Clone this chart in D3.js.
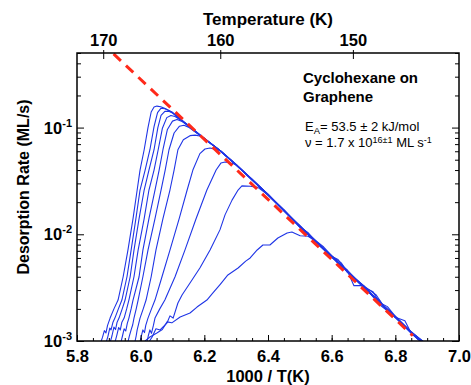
<!DOCTYPE html>
<html>
<head>
<meta charset="utf-8">
<script src="https://cdn.jsdelivr.net/npm/d3@7"></script>
<style>
  body { margin: 0; background: #fff; }
  svg { display: block; font-family: "Liberation Sans", Arial, Helvetica, sans-serif; }
</style>
</head>
<body>
<div id="chart"></div>
<script>
// x = 1000/T (1/K), y = desorption rate (ML/s)
const xTicks = [5.8, 6.0, 6.2, 6.4, 6.6, 6.8, 7.0];
const tempTicks = [170, 160, 150];
const yDecades = [-3, -2, -1];

// Arrhenius fit (red dashed)
const fitLine = [[5.915, 0.49], [6.855, 0.00112]];

// TPD traces (highest coverage first)
const c1 = [[5.872,0.00092],[5.880,0.00108],[5.886,0.00125],[5.891,0.00119],[5.896,0.00140],[5.904,0.00164],[5.916,0.0020],[5.929,0.00242],[5.945,0.0040],[5.960,0.0071],[5.976,0.0140],[5.989,0.026],[5.998,0.040],[6.011,0.062],[6.023,0.100],[6.033,0.140],[6.042,0.156],[6.051,0.159],[6.063,0.157],[6.077,0.151],[6.090,0.144],[6.10,0.138],[6.15,0.104],[6.20,0.0788],[6.25,0.0607],[6.30,0.0448],[6.35,0.0326],[6.40,0.0235],[6.45,0.0168],[6.50,0.0119],[6.55,0.0086],[6.60,0.0062],[6.65,0.0045],[6.70,0.0032],[6.75,0.0023],[6.80,0.00166],[6.85,0.00119],[6.88,0.00100],[6.92,0.00092]];
const c2 = [[5.889,0.00092],[5.897,0.00110],[5.903,0.00132],[5.907,0.00127],[5.913,0.00150],[5.919,0.00164],[5.930,0.0020],[5.941,0.00242],[5.957,0.0040],[5.970,0.0071],[5.985,0.0140],[5.998,0.026],[6.014,0.040],[6.029,0.062],[6.042,0.102],[6.053,0.138],[6.064,0.152],[6.076,0.150],[6.090,0.144],[6.10,0.139],[6.15,0.105],[6.20,0.0792],[6.25,0.0603],[6.30,0.0445],[6.35,0.0327],[6.40,0.0237],[6.45,0.0166],[6.50,0.0117],[6.55,0.0087],[6.575,0.0076],[6.60,0.0063],[6.63,0.0054],[6.65,0.0044],[6.70,0.0033],[6.75,0.0023],[6.80,0.00170],[6.85,0.00121],[6.89,0.00098],[6.93,0.00092]];
const c3 = [[5.902,0.00092],[5.910,0.00112],[5.916,0.00135],[5.921,0.00128],[5.926,0.00150],[5.932,0.00164],[5.942,0.0020],[5.951,0.00242],[5.967,0.0040],[5.979,0.0071],[5.995,0.0140],[6.011,0.026],[6.026,0.040],[6.042,0.062],[6.054,0.100],[6.064,0.130],[6.076,0.142],[6.088,0.142],[6.100,0.137],[6.15,0.103],[6.20,0.0786],[6.25,0.0606],[6.30,0.0450],[6.35,0.0322],[6.40,0.0233],[6.45,0.0169],[6.50,0.0118],[6.55,0.0084],[6.60,0.0061],[6.65,0.0045],[6.67,0.0033],[6.70,0.0033],[6.75,0.0022],[6.80,0.00168],[6.85,0.00118],[6.88,0.00099],[6.92,0.00093]];
const c4 = [[5.917,0.00092],[5.925,0.00113],[5.931,0.00134],[5.936,0.00127],[5.941,0.00150],[5.948,0.00164],[5.956,0.0020],[5.963,0.00242],[5.979,0.0040],[5.992,0.0071],[6.011,0.0140],[6.026,0.026],[6.042,0.040],[6.055,0.062],[6.068,0.098],[6.082,0.124],[6.095,0.130],[6.108,0.127],[6.125,0.118],[6.15,0.105],[6.20,0.0790],[6.25,0.0609],[6.30,0.0447],[6.35,0.0323],[6.40,0.0238],[6.45,0.0167],[6.48,0.0137],[6.50,0.0121],[6.55,0.0085],[6.60,0.0062],[6.65,0.0046],[6.70,0.0032],[6.75,0.0024],[6.775,0.0019],[6.80,0.00167],[6.85,0.00121],[6.89,0.00096],[6.92,0.00092]];
const c5 = [[5.936,0.00092],[5.943,0.00112],[5.948,0.00130],[5.953,0.00124],[5.958,0.00146],[5.963,0.00164],[5.970,0.0020],[5.976,0.00242],[5.995,0.0040],[6.007,0.0071],[6.026,0.0140],[6.045,0.026],[6.058,0.040],[6.070,0.062],[6.084,0.096],[6.100,0.115],[6.114,0.119],[6.128,0.115],[6.15,0.104],[6.20,0.0787],[6.25,0.0605],[6.30,0.0449],[6.35,0.0324],[6.40,0.0234],[6.45,0.0166],[6.50,0.0120],[6.55,0.0086],[6.60,0.0062],[6.625,0.0051],[6.65,0.0045],[6.70,0.0032],[6.73,0.0029],[6.75,0.0023],[6.80,0.00170],[6.85,0.00119],[6.88,0.00100],[6.91,0.00093]];
const c6 = [[5.958,0.00092],[5.964,0.00110],[5.970,0.00127],[5.975,0.00142],[5.979,0.00164],[5.986,0.0020],[5.992,0.00242],[6.007,0.0040],[6.023,0.0071],[6.045,0.0140],[6.064,0.026],[6.077,0.040],[6.089,0.062],[6.105,0.089],[6.122,0.103],[6.136,0.105],[6.150,0.101],[6.20,0.0789],[6.25,0.0608],[6.30,0.0446],[6.35,0.0326],[6.40,0.0236],[6.45,0.0168],[6.50,0.0118],[6.55,0.0085],[6.60,0.0063],[6.65,0.0044],[6.70,0.0033],[6.74,0.0027],[6.76,0.0022],[6.80,0.00168],[6.85,0.00122],[6.89,0.00097],[6.93,0.00092]];
const c7 = [[5.980,0.00092],[5.986,0.00112],[5.989,0.00127],[5.994,0.00146],[5.998,0.00164],[6.008,0.0020],[6.017,0.00242],[6.033,0.0040],[6.048,0.0071],[6.070,0.0140],[6.092,0.026],[6.105,0.040],[6.117,0.062],[6.134,0.077],[6.155,0.084],[6.171,0.085],[6.190,0.083],[6.20,0.0795],[6.25,0.0606],[6.30,0.0448],[6.35,0.0328],[6.40,0.0233],[6.45,0.0169],[6.50,0.0117],[6.525,0.0104],[6.55,0.0086],[6.60,0.0061],[6.65,0.0045],[6.70,0.0032],[6.75,0.0023],[6.80,0.00169],[6.85,0.00120],[6.87,0.00104],[6.90,0.00093]];
const c8 = [[5.996,0.00092],[6.001,0.00108],[6.007,0.00127],[6.012,0.00120],[6.016,0.00140],[6.023,0.00164],[6.034,0.0020],[6.045,0.00242],[6.067,0.0040],[6.092,0.0071],[6.121,0.0140],[6.146,0.026],[6.164,0.040],[6.186,0.057],[6.202,0.0630],[6.218,0.0644],[6.236,0.0625],[6.25,0.0611],[6.30,0.0451],[6.35,0.0324],[6.40,0.0237],[6.45,0.0167],[6.50,0.0118],[6.55,0.0085],[6.60,0.0062],[6.65,0.0045],[6.70,0.0033],[6.75,0.0023],[6.80,0.00167],[6.83,0.00155],[6.85,0.00118],[6.88,0.00099],[6.92,0.00092]];
const c9 = [[6.018,0.00092],[6.024,0.00112],[6.029,0.00127],[6.034,0.00118],[6.040,0.00140],[6.045,0.00164],[6.060,0.0020],[6.076,0.00242],[6.108,0.0040],[6.139,0.0071],[6.174,0.0140],[6.208,0.026],[6.237,0.040],[6.252,0.0465],[6.265,0.0476],[6.282,0.0466],[6.30,0.0450],[6.35,0.0327],[6.40,0.0235],[6.45,0.0168],[6.50,0.0119],[6.55,0.0087],[6.60,0.0062],[6.65,0.0045],[6.70,0.0032],[6.75,0.0023],[6.775,0.0021],[6.80,0.00170],[6.85,0.00121],[6.89,0.00097],[6.92,0.00093]];
const c10 = [[6.020,0.00092],[6.036,0.00109],[6.048,0.00130],[6.061,0.00127],[6.083,0.00148],[6.092,0.00172],[6.102,0.00164],[6.117,0.00227],[6.130,0.00270],[6.155,0.00350],[6.186,0.00483],[6.218,0.00713],[6.249,0.0110],[6.265,0.0152],[6.287,0.0209],[6.306,0.0260],[6.318,0.0284],[6.345,0.0282],[6.368,0.0275],[6.40,0.0234],[6.45,0.0167],[6.50,0.0118],[6.55,0.0086],[6.60,0.0062],[6.62,0.0058],[6.65,0.0044],[6.70,0.0032],[6.75,0.0023],[6.80,0.00167],[6.85,0.00120],[6.88,0.00100],[6.92,0.00092]];
const c11 = [[6.005,0.00092],[6.014,0.00100],[6.029,0.00109],[6.051,0.00119],[6.068,0.00128],[6.083,0.00151],[6.098,0.00148],[6.124,0.00168],[6.155,0.00183],[6.177,0.00208],[6.208,0.00242],[6.227,0.00282],[6.250,0.00340],[6.274,0.00416],[6.306,0.00483],[6.330,0.0056],[6.344,0.0060],[6.366,0.00713],[6.384,0.00794],[6.406,0.00794],[6.431,0.00923],[6.460,0.0103],[6.475,0.0105],[6.501,0.0097],[6.526,0.0096],[6.55,0.0086],[6.60,0.0062],[6.65,0.0045],[6.70,0.0032],[6.75,0.0023],[6.80,0.00168],[6.85,0.00119],[6.89,0.00097],[6.93,0.00092]];
const curves = [c1, c2, c3, c4, c5, c6, c7, c8, c9, c10, c11];

const W = 471, H = 385;
const margin = {top: 53, right: 12, bottom: 44, left: 77},
    width = W - margin.left - margin.right,
    height = H - margin.top - margin.bottom;

const root = d3.select("#chart").append("svg")
    .attr("width", W)
    .attr("height", H);

const svg = root.append("g")
    .attr("transform", `translate(${margin.left},${margin.top})`);

const x = d3.scaleLinear().domain([5.8, 7.0]).range([0, width]);
const y = d3.scaleLog().domain([1e-3, 0.5]).range([height, 0]);

// clip so the traces stop at the frame
svg.append("clipPath").attr("id", "clip")
  .append("rect").attr("width", width).attr("height", height);

const line = d3.line().x(d => x(d[0])).y(d => y(d[1]));

svg.append("g").attr("clip-path", "url(#clip)")
  .selectAll("path.trace")
  .data(curves)
  .join("path")
    .attr("class", "trace")
    .attr("d", line)
    .attr("fill", "none")
    .attr("stroke", "#1f35e6")
    .attr("stroke-width", 1.1)
    .attr("stroke-linejoin", "round");

svg.append("path")
  .datum(fitLine)
  .attr("d", line)
  .attr("fill", "none")
  .attr("stroke", "#ff2a1a")
  .attr("stroke-width", 3)
  .attr("stroke-dasharray", "10,7");

// bottom axis: minor + major ticks pointing in
svg.append("g")
  .attr("transform", `translate(0,${height})`)
  .call(d3.axisBottom(x).tickValues(d3.range(5.8, 7.001, 0.05)).tickSize(-3).tickFormat(""))
  .call(g => g.select(".domain").remove());

svg.append("g")
  .attr("transform", `translate(0,${height})`)
  .style("font-size", "16.5px")
  .style("font-weight", "bold")
  .call(d3.axisBottom(x).tickValues(xTicks).tickSize(-6).tickPadding(9).tickFormat(d3.format(".1f")))
  .call(g => g.select(".domain").remove())
  .call(g => g.selectAll("text").attr("fill", "#000").style("font-family", "inherit"));

// top axis: temperature
svg.append("g")
  .style("font-size", "16.5px")
  .style("font-weight", "bold")
  .call(d3.axisTop(x).tickValues(tempTicks.map(t => 1000 / t)).tickSize(-6).tickPadding(7)
    .tickFormat((d, i) => tempTicks[i]))
  .call(g => g.select(".domain").remove())
  .call(g => g.selectAll(".tick line").attr("y1", -3))
  .call(g => g.selectAll("text").attr("fill", "#000").style("font-family", "inherit"));

// log minor ticks on left and right
const minorY = [];
yDecades.forEach(p => {
  for (let m = 2; m <= 9; m++) {
    const v = m * Math.pow(10, p);
    if (v <= 0.5) minorY.push(v);
  }
});
const majorY = yDecades.map(p => Math.pow(10, p));

svg.append("g")
  .call(d3.axisLeft(y).tickValues(minorY).tickSize(-4).tickFormat(""))
  .call(g => g.select(".domain").remove());
svg.append("g")
  .call(d3.axisLeft(y).tickValues(majorY).tickSize(-7).tickFormat(""))
  .call(g => g.select(".domain").remove());
svg.append("g")
  .attr("transform", `translate(${width},0)`)
  .call(d3.axisRight(y).tickValues(minorY).tickSize(-4).tickFormat(""))
  .call(g => g.select(".domain").remove());
svg.append("g")
  .attr("transform", `translate(${width},0)`)
  .call(d3.axisRight(y).tickValues(majorY).tickSize(-7).tickFormat(""))
  .call(g => g.select(".domain").remove());

// y tick labels 10^n
const yLab = svg.selectAll(".ylab")
  .data(yDecades)
  .join("text")
    .attr("class", "ylab")
    .attr("x", -5)
    .attr("y", d => y(Math.pow(10, d)) + 6)
    .attr("text-anchor", "end")
    .style("font-size", "16.5px")
    .style("font-weight", "bold");
yLab.append("tspan").text("10");
yLab.append("tspan").attr("dy", -7).style("font-size", "11px").text(d => d);

// frame
svg.append("rect")
  .attr("width", width)
  .attr("height", height)
  .attr("fill", "none")
  .attr("stroke", "#000")
  .attr("stroke-width", 1.5);

// axis titles
root.append("text")
  .attr("x", 268).attr("y", 25)
  .attr("text-anchor", "middle")
  .style("font-size", "17px").style("font-weight", "bold")
  .text("Temperature (K)");

root.append("text")
  .attr("x", 268).attr("y", 382)
  .attr("text-anchor", "middle")
  .style("font-size", "16.5px").style("font-weight", "bold")
  .text("1000 / T(K)");

root.append("text")
  .attr("transform", "translate(29,187) rotate(-90)")
  .attr("text-anchor", "middle")
  .style("font-size", "16px").style("font-weight", "bold")
  .text("Desorption Rate (ML/s)");

// annotation
root.append("text")
  .attr("x", 303).attr("y", 83)
  .style("font-size", "15px").style("font-weight", "bold")
  .text("Cyclohexane on");
root.append("text")
  .attr("x", 303).attr("y", 102)
  .style("font-size", "15px").style("font-weight", "bold")
  .text("Graphene");

const ea = root.append("text")
  .attr("x", 305).attr("y", 131)
  .style("font-size", "13px");
ea.append("tspan").text("E");
ea.append("tspan").attr("dy", 2.5).style("font-size", "9.5px").text("A");
ea.append("tspan").attr("dy", -2.5).text("= 53.5 ± 2 kJ/mol");

const nu = root.append("text")
  .attr("x", 305).attr("y", 147)
  .style("font-size", "13px");
nu.append("tspan").text("ν = 1.7 x 10");
nu.append("tspan").attr("dy", -4.5).style("font-size", "9px").text("16±1");
nu.append("tspan").attr("dy", 4.5).text(" ML s");
nu.append("tspan").attr("dy", -4.5).style("font-size", "9px").text("-1");
</script>
</body>
</html>
